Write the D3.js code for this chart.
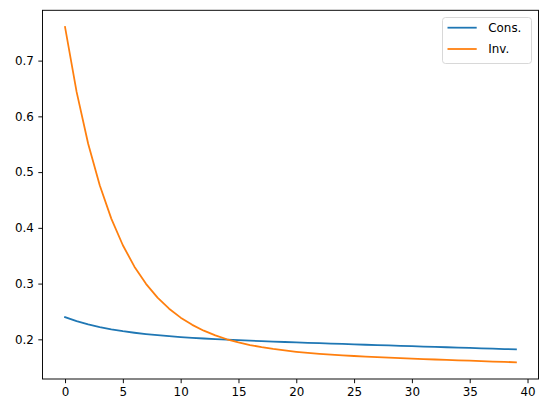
<!DOCTYPE html>
<html><head><meta charset="utf-8">
<script src="https://cdn.jsdelivr.net/npm/d3@7"></script>
<style>body{margin:0;background:#fff}svg{display:block}</style>
</head><body>
<svg id="c" width="547" height="413"></svg>
<script>
const steps = d3.range(0, 40);
const consValues = [0.2399,0.2327,0.2268,0.2219,0.2179,0.2146,0.2118,0.2094,0.2074,0.2056,
 0.2041,0.2027,0.2015,0.2004,0.1994,0.1985,0.1976,0.1968,0.1960,0.1952,
 0.1945,0.1938,0.1930,0.1924,0.1917,0.1910,0.1903,0.1896,0.1890,0.1883,
 0.1877,0.1871,0.1864,0.1858,0.1851,0.1845,0.1839,0.1832,0.1826,0.1819];
const invValues = [0.7602,0.6439,0.5508,0.4763,0.4166,0.3688,0.3304,0.2996,0.2749,0.2550,
 0.2389,0.2260,0.2155,0.2070,0.2001,0.1944,0.1898,0.1859,0.1827,0.1800,
 0.1777,0.1758,0.1741,0.1726,0.1713,0.1701,0.1690,0.1680,0.1671,0.1662,
 0.1654,0.1646,0.1638,0.1631,0.1624,0.1617,0.1610,0.1602,0.1595,0.1589];
const seriesNames = ["Cons.", "Inv."];
const xTicks = [0,5,10,15,20,25,30,35,40];
const yTicks = [0.2,0.3,0.4,0.5,0.6,0.7];

const colors = ["#1f77b4", "#ff7f0e"];
const L = 42.5, R = 538.5, T = 10.3, B = 379;
const fs = 11.9;
const svg = d3.select("#c");

const allY = consValues.concat(invValues);
const ymin = d3.min(allY), ymax = d3.max(allY);
const ypad = (ymax - ymin) * 0.05;
const xpad = 39 * 0.05;
const x = d3.scaleLinear().domain([0 - xpad, 39 + xpad]).range([L, R]);
const y = d3.scaleLinear().domain([ymin - ypad, ymax + ypad]).range([B, T]);

const font = "DejaVu Sans, sans-serif";

const xAxis = svg.append("g").attr("transform", `translate(0,${B})`)
  .call(d3.axisBottom(x).tickValues(xTicks).tickFormat(d3.format("d")).tickSize(4.2).tickPadding(4.5));
const yAxis = svg.append("g").attr("transform", `translate(${L},0)`)
  .call(d3.axisLeft(y).tickValues(yTicks).tickFormat(d3.format(".1f")).tickSize(4.2).tickPadding(4.5));
[xAxis, yAxis].forEach(a => {
  a.select(".domain").remove();
  a.selectAll(".tick line").attr("stroke", "#000").attr("stroke-width", 0.95);
  a.selectAll(".tick text").attr("fill", "#000").style("font-family", font).style("font-size", fs + "px");
});

const line = d3.line().x((d, i) => x(steps[i])).y(d => y(d));
[consValues, invValues].forEach((vals, k) => {
  svg.append("path").datum(vals).attr("d", line)
    .attr("fill", "none").attr("stroke", colors[k]).attr("stroke-width", 1.78)
    .attr("stroke-linecap", "square").attr("stroke-linejoin", "round");
});

svg.append("rect").attr("x", L).attr("y", T).attr("width", R - L).attr("height", B - T)
  .attr("fill", "none").attr("stroke", "#000").attr("stroke-width", 0.95);

// legend
const lg = svg.append("g");
lg.append("rect").attr("x", 442.5).attr("y", 17.5).attr("width", 89).attr("height", 46)
  .attr("rx", 3).attr("fill", "#fff").attr("fill-opacity", 0.8)
  .attr("stroke", "#d6d6d6").attr("stroke-width", 0.95);
seriesNames.forEach((n, k) => {
  const yy = 27.7 + k * 21.3;
  lg.append("line").attr("x1", 447.5).attr("x2", 476.7).attr("y1", yy).attr("y2", yy)
    .attr("stroke", colors[k]).attr("stroke-width", 1.78);
  lg.append("text").attr("x", 488.3).attr("y", yy).attr("dy", "0.36em")
    .style("font-family", font).style("font-size", fs + "px").attr("fill", "#000").text(n);
});
</script>
</body></html>
